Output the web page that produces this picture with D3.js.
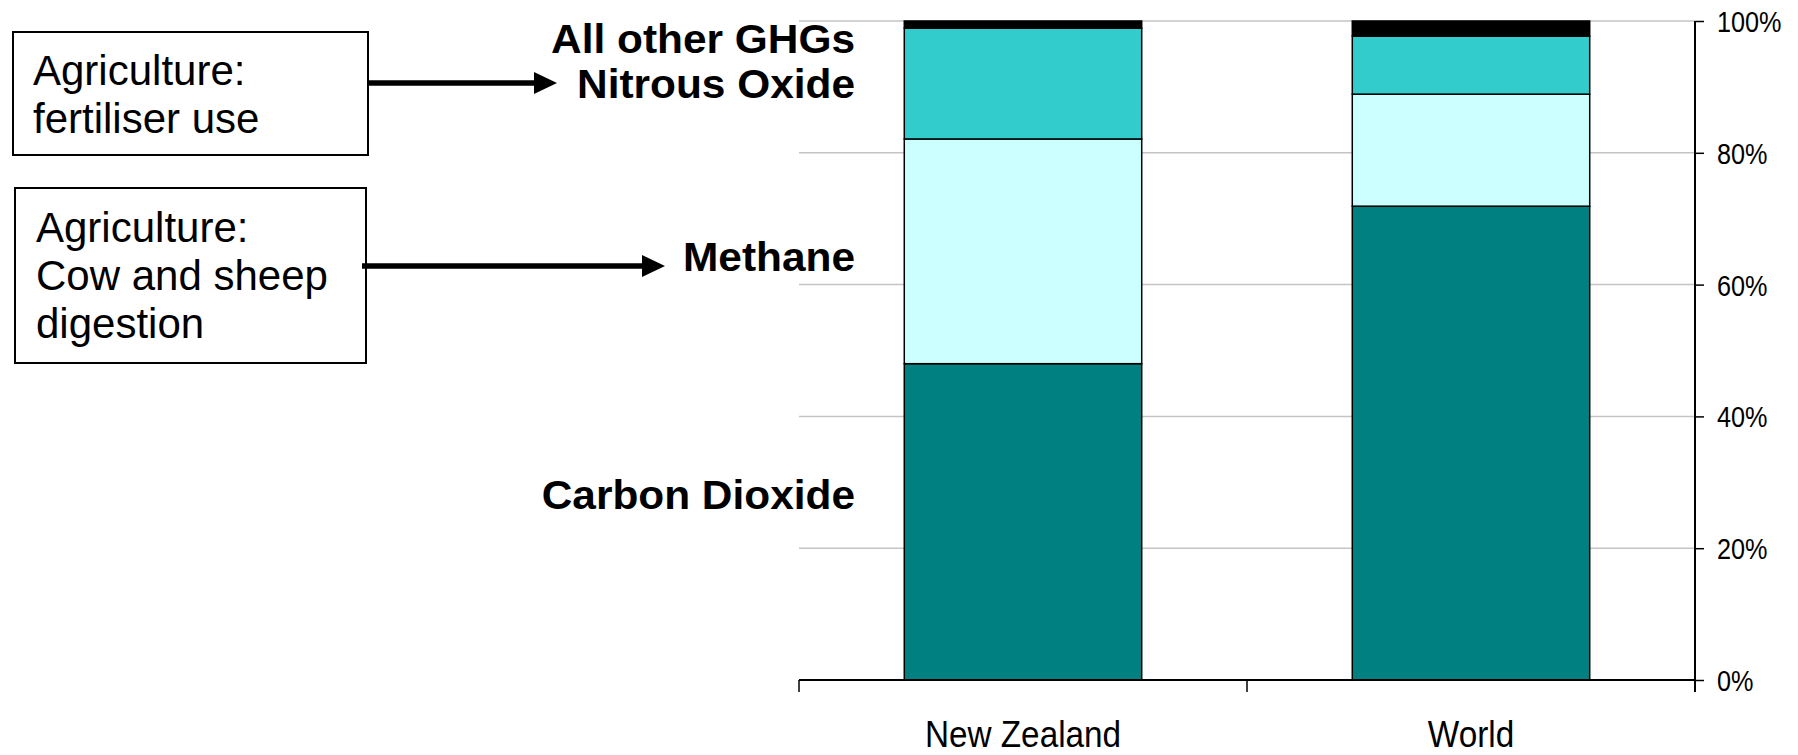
<!DOCTYPE html>
<html>
<head>
<meta charset="utf-8">
<script src="https://cdn.jsdelivr.net/npm/d3@7"></script>
<style>
  html, body { margin: 0; padding: 0; background: #fff; }
  svg { display: block; }
  text { font-family: "Liberation Sans", Arial, Helvetica, sans-serif; }
</style>
</head>
<body>
<svg id="chart" width="1798" height="755"></svg>
<script>
// ---- data ----
const categories = ["New Zealand", "World"];
const seriesKeys = ["Carbon Dioxide", "Methane", "Nitrous Oxide", "All other GHGs"];
const co2 = [48.0, 71.9];
const methane = [34.1, 17.0];
const nitrous = [16.8, 8.8];
const otherGHGs = [1.1, 2.3];
const yTicks = [0, 0.2, 0.4, 0.6, 0.8, 1.0];
const seriesColors = ["#008080", "#CCFFFF", "#33CCCC", "#000000"];
const box1Lines = ["Agriculture:", "fertiliser use"];
const box2Lines = ["Agriculture:", "Cow and sheep", "digestion"];

// ---- layout ----
const svg = d3.select("#chart");
const plot = { left: 799, right: 1695, top: 21, bottom: 680 };

const x = d3.scaleBand().domain(categories).range([plot.left, plot.right]).padding(0);
const y = d3.scaleLinear().domain([0, 1]).range([plot.bottom, plot.top]);

const rows = categories.map((c, i) => {
  const total = co2[i] + methane[i] + nitrous[i] + otherGHGs[i];
  return {
    cat: c,
    "Carbon Dioxide": co2[i] / total,
    "Methane": methane[i] / total,
    "Nitrous Oxide": nitrous[i] / total,
    "All other GHGs": otherGHGs[i] / total
  };
});
const stacked = d3.stack().keys(seriesKeys)(rows);
const color = d3.scaleOrdinal().domain(seriesKeys).range(seriesColors);

// gridlines
svg.append("g")
  .selectAll("line")
  .data(yTicks.filter(d => d > 0))
  .join("line")
  .attr("x1", plot.left).attr("x2", plot.right)
  .attr("y1", d => y(d)).attr("y2", d => y(d))
  .attr("stroke", "#c4c4c4").attr("stroke-width", 1.5);

// bars
const barW = x.bandwidth() * 0.53;
svg.append("g")
  .selectAll("g")
  .data(stacked)
  .join("g")
  .attr("fill", d => color(d.key))
  .selectAll("rect")
  .data(d => d)
  .join("rect")
  .attr("x", d => x(d.data.cat) + (x.bandwidth() - barW) / 2)
  .attr("width", barW)
  .attr("y", d => y(d[1]))
  .attr("height", d => y(d[0]) - y(d[1]))
  .attr("stroke", "#000")
  .attr("stroke-width", 1.5);

// x axis
const xAxisG = svg.append("g").attr("transform", `translate(0,${plot.bottom})`);
xAxisG.append("line")
  .attr("x1", plot.left).attr("x2", plot.right)
  .attr("y1", 0).attr("y2", 0)
  .attr("stroke", "#000").attr("stroke-width", 2);
const xTickPos = [plot.left].concat(categories.map(c => x(c) + x.bandwidth()));
xAxisG.selectAll("line.tick")
  .data(xTickPos)
  .join("line")
  .attr("class", "tick")
  .attr("x1", d => d).attr("x2", d => d)
  .attr("y1", 0).attr("y2", 12)
  .attr("stroke", "#000").attr("stroke-width", 1.5);
xAxisG.selectAll("text")
  .data(categories)
  .join("text")
  .attr("transform", d => `translate(${x(d) + x.bandwidth() / 2},67) scale(0.9,1)`)
  .attr("text-anchor", "middle")
  .attr("font-size", 37)
  .attr("fill", "#000")
  .text(d => d);

// y axis (right)
const yAxis = d3.axisRight(y)
  .tickValues(yTicks)
  .tickFormat(d3.format(".0%"))
  .tickSize(9)
  .tickPadding(0);
const yAxisG = svg.append("g")
  .attr("transform", `translate(${plot.right},0)`)
  .call(yAxis);
yAxisG.select(".domain")
  .attr("d", `M0,${plot.top}V${plot.bottom + 12}`)
  .attr("stroke", "#000").attr("stroke-width", 2);
yAxisG.selectAll(".tick line").attr("stroke", "#000").attr("stroke-width", 1.5);
yAxisG.selectAll(".tick text")
  .attr("x", 0)
  .attr("dy", "0.36em")
  .attr("transform", "translate(22,0) scale(0.87,1)")
  .attr("font-size", 29)
  .attr("font-family", '"Liberation Sans", Arial, sans-serif')
  .attr("fill", "#000");

// series labels (left of bars)
const labelRight = 855;
const seriesLabelY = {
  "All other GHGs": 53,
  "Nitrous Oxide": 98,
  "Methane": 271,
  "Carbon Dioxide": 509
};
svg.append("g")
  .selectAll("text")
  .data(seriesKeys)
  .join("text")
  .attr("transform", d => `translate(${labelRight},${seriesLabelY[d]}) scale(1.01,0.95)`)
  .attr("text-anchor", "end")
  .attr("font-size", 42)
  .attr("font-weight", "bold")
  .attr("fill", "#000")
  .text(d => d);

// annotation boxes
function box(x0, y0, w, h, lines, tx, ty0, lh) {
  const g = svg.append("g");
  g.append("rect")
    .attr("x", x0).attr("y", y0).attr("width", w).attr("height", h)
    .attr("fill", "#fff").attr("stroke", "#000").attr("stroke-width", 2);
  g.selectAll("text")
    .data(lines)
    .join("text")
    .attr("x", tx)
    .attr("y", (d, i) => ty0 + i * lh)
    .attr("font-size", 42)
    .attr("fill", "#000")
    .text(d => d);
}
box(13, 32, 355, 123, box1Lines, 33, 85, 48);
box(15, 188, 351, 175, box2Lines, 36, 242, 48);

// arrows
function arrow(x1, x2, yy) {
  const g = svg.append("g");
  g.append("line")
    .attr("x1", x1).attr("x2", x2 - 20)
    .attr("y1", yy).attr("y2", yy)
    .attr("stroke", "#000").attr("stroke-width", 5.5);
  g.append("path")
    .attr("d", `M${x2},${yy} L${x2 - 23},${yy - 11} L${x2 - 23},${yy + 11} Z`)
    .attr("fill", "#000");
}
arrow(369, 557, 83);
arrow(362, 665, 266);
</script>
</body>
</html>
